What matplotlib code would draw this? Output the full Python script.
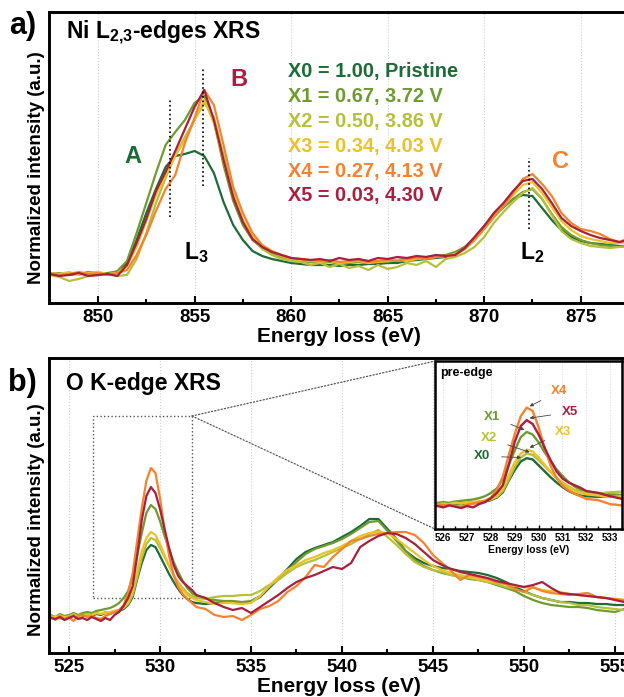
import matplotlib
matplotlib.use("Agg")
import matplotlib.pyplot as plt
import numpy as np
from matplotlib.patches import Rectangle, ConnectionPatch
from matplotlib.ticker import MultipleLocator

plt.rcParams['font.family'] = ['Liberation Sans', 'DejaVu Sans']
plt.rcParams['font.weight'] = 'bold'
plt.rcParams['mathtext.fontset'] = 'custom'
plt.rcParams['mathtext.rm'] = 'Liberation Sans:bold'
plt.rcParams['mathtext.bf'] = 'Liberation Sans:bold'
plt.rcParams['mathtext.default'] = 'rm'

# ── data ──────────────────────────────────────────────────────────────
names = ["X0", "X1", "X2", "X3", "X4", "X5"]
legend_text = ["X0 = 1.00, Pristine", "X1 = 0.67, 3.72 V", "X2 = 0.50, 3.86 V",
               "X3 = 0.34, 4.03 V", "X4 = 0.27, 4.13 V", "X5 = 0.03, 4.30 V"]
colors = ["#1d6b35", "#6e9b2f", "#b6c03a", "#ecc22c", "#f5822e", "#a8203e"]

# Ni L2,3 edges (847.5 .. 878 eV, 0.5 eV steps)
ni_energy = np.arange(847.5, 878.01, 0.5)
ni_x0 = [29, 28, 30, 29, 30, 28, 30, 31,
         40, 63, 90, 114, 136, 147, 149, 152, 147, 130, 101, 78, 63, 52, 47, 44, 42, 40,
         39, 38, 38, 38, 37, 38, 38, 39, 39, 40, 40, 42, 43, 44, 45, 46,
         50, 56, 65, 77, 88, 96, 104, 108, 107, 95, 83, 73, 66, 62, 60, 59, 58, 57, 57, 57]
ni_x1 = [29, 30, 28, 29, 31, 30, 29, 32,
         42, 70, 100, 130, 158, 171, 183, 200, 207, 182, 138, 102, 78, 63, 55, 50, 46, 43,
         42, 41, 40, 41, 39, 40, 41, 40, 42, 41, 43, 44, 44, 46, 47, 48,
         51, 56, 64, 75, 86, 96, 104, 111, 114, 104, 89, 76, 68, 63, 60, 58, 57, 56, 57, 58]
ni_x2 = [28, 26, 22, 24, 27, 28, 29, 27,
         28, 44, 70, 100, 125, 148, 166, 183, 200, 186, 148, 110, 83, 65, 54, 48, 44, 42,
         41, 38, 40, 36, 39, 35, 37, 33, 38, 34, 36, 40, 38, 42, 36, 44,
         46, 50, 56, 66, 80, 91, 101, 110, 115, 104, 88, 72, 64, 60, 57, 56, 55, 56, 57, 58]
ni_x3 = [30, 29, 31, 28, 30, 31, 29, 30,
         37, 56, 82, 108, 128, 147, 163, 183, 203, 180, 142, 108, 83, 67, 57, 51, 47, 44,
         43, 42, 41, 42, 40, 41, 42, 40, 41, 42, 43, 42, 44, 45, 46, 47,
         49, 54, 63, 74, 86, 97, 108, 118, 121, 110, 96, 82, 73, 67, 64, 62, 60, 60, 61, 61]
ni_x4 = [30, 28, 29, 31, 29, 30, 28, 30,
         33, 48, 68, 92, 114, 128, 160, 185, 213, 198, 158, 116, 90, 70, 58, 52, 48, 45,
         44, 43, 42, 43, 41, 42, 43, 41, 42, 43, 42, 44, 45, 44, 46, 47,
         48, 54, 63, 74, 86, 97, 110, 124, 129, 119, 107, 90, 80, 74, 72, 69, 64, 61, 65, 64]
ni_x5 = [29, 27, 28, 30, 27, 28, 29, 27,
         38, 60, 84, 112, 131, 152, 174, 196, 213, 183, 143, 106, 81, 64, 56, 51, 48, 45,
         44, 43, 44, 42, 45, 43, 44, 42, 45, 44, 46, 45, 47, 46, 48, 47,
         48, 55, 66, 77, 90, 100, 112, 122, 124, 114, 100, 85, 77, 72, 68, 65, 63, 61, 63, 63]

# O K edge (524 .. 532 eV in 0.25 steps, then 532.5 .. 556 eV in 0.5 steps)
o_energy = np.concatenate([np.arange(524.0, 532.01, 0.25), np.arange(532.5, 556.01, 0.5)])
o_x0 = [36, 34, 37, 35, 36, 38, 36, 37, 38, 37, 39, 38, 40, 39, 41, 42, 44, 48, 56, 74,
        90, 103, 108, 106, 97, 88, 79, 71, 64, 58, 54, 51, 50,
        49, 50, 51, 50, 50, 51, 56, 65, 74, 84, 94, 101, 105, 108, 111, 116, 121, 127,
        134, 134, 124, 114, 102, 95, 90, 87, 85, 84, 82, 81, 80, 78, 75, 71, 66, 62,
        58, 55, 53, 51, 51, 50, 50, 49, 49, 48, 48, 47]
o_x1 = [38, 36, 39, 37, 38, 40, 38, 40, 41, 40, 42, 43, 44, 45, 47, 50, 55, 62, 76, 98,
        120, 140, 148, 144, 132, 117, 104, 91, 81, 72, 65, 60, 57,
        55, 53, 52, 52, 51, 52, 57, 66, 74, 82, 91, 99, 104, 107, 110, 114, 119, 125,
        131, 132, 122, 112, 102, 93, 87, 83, 80, 78, 76, 74, 73, 71, 68, 65, 62, 57,
        53, 50, 48, 47, 46, 46, 45, 43, 42, 41, 44, 45]
o_x2 = [37, 35, 38, 36, 37, 39, 37, 38, 39, 38, 40, 39, 41, 40, 42, 43, 45, 49, 58, 76,
        95, 109, 115, 113, 105, 96, 87, 78, 71, 65, 60, 57, 55,
        54, 56, 57, 57, 58, 58, 62, 68, 73, 80, 86, 90, 93, 97, 101, 105, 109, 114,
        119, 123, 116, 108, 99, 91, 86, 83, 81, 78, 76, 75, 73, 71, 69, 66, 64, 61,
        58, 55, 53, 51, 50, 48, 48, 46, 45, 44, 43, 43]
o_x3 = [35, 37, 34, 36, 35, 37, 36, 38, 37, 38, 40, 39, 40, 41, 42, 43, 46, 51, 62, 82,
        102, 115, 121, 118, 109, 98, 87, 77, 69, 63, 58, 55, 53,
        51, 49, 50, 50, 49, 50, 57, 67, 76, 83, 88, 93, 96, 100, 103, 107, 112, 117,
        120, 121, 120, 114, 107, 100, 93, 87, 83, 80, 78, 76, 74, 72, 71, 69, 67, 66,
        65, 63, 62, 61, 59, 58, 57, 56, 55, 54, 53, 52]
o_x4 = [36, 33, 37, 34, 36, 32, 37, 38, 36, 37, 35, 34, 37, 39, 41, 43, 48, 60, 80, 113,
        145, 172, 185, 180, 155, 124, 97, 78, 66, 59, 54, 50, 46,
        44, 38, 36, 37, 33, 38, 44, 47, 52, 61, 67, 76, 88, 86, 96, 104, 112, 114,
        117, 119, 120, 121, 121, 118, 110, 98, 90, 82, 73, 78, 76, 74, 71, 69, 64, 61,
        66, 62, 60, 59, 58, 59, 60, 56, 55, 54, 53, 52]
o_x5 = [35, 34, 36, 33, 35, 37, 34, 35, 33, 36, 34, 32, 35, 33, 38, 41, 47, 55, 67, 98,
        133, 157, 166, 160, 144, 124, 105, 88, 77, 71, 67, 63, 58,
        55, 50, 46, 43, 45, 40, 46, 52, 58, 65, 71, 75, 78, 82, 86, 84, 90, 106,
        112, 117, 120, 119, 115, 109, 101, 93, 88, 84, 81, 79, 77, 75, 72, 70, 68, 66,
        68, 71, 65, 60, 59, 58, 57, 56, 55, 53, 51, 50]

ni_series = [ni_x0, ni_x1, ni_x2, ni_x3, ni_x4, ni_x5]
o_series = [o_x0, o_x1, o_x2, o_x3, o_x4, o_x5]


def style_axes(ax):
    for s in ax.spines.values():
        s.set_linewidth(2.1)
    ax.set_yticks([])
    ax.tick_params(axis="x", which="both", direction="in", labelsize=13.5, pad=4)
    ax.tick_params(axis="x", which="major", length=5, width=1.5)
    ax.tick_params(axis="x", which="minor", length=3, width=1.5)
    ax.xaxis.grid(True, which="major", color="#cfcfcf", linestyle=":", linewidth=0.8)
    ax.set_axisbelow(True)


fig = plt.figure(figsize=(6.24, 6.97), dpi=100)

# ── a) Ni L-edges ────────────────────────────────────────────────────
ax1 = fig.add_axes([0.0785, 0.5653, 0.9295, 0.4175])
for vals, c in zip(ni_series, colors):
    ax1.plot(ni_energy, vals, color=c, lw=1.6)
ax1.set_xlim(847.46, 877.5)
ax1.set_ylim(0, 291)
ax1.xaxis.set_major_locator(MultipleLocator(5))
ax1.xaxis.set_minor_locator(MultipleLocator(2.5))
style_axes(ax1)
ax1.set_xlabel("Energy loss (eV)", fontsize=15, fontweight="bold", labelpad=1)
ax1.set_ylabel("Normalized intensity (a.u.)", fontsize=13.5, fontweight="bold")
ax1.yaxis.set_label_coords(-0.007, 0.464)

ax1.text(0.030, 0.928, r"Ni L$_{2{,}3}$-edges XRS", transform=ax1.transAxes,
         fontsize=16.5, fontweight="bold", va="center", ha="left")
for i, (t, c) in enumerate(zip(legend_text, colors)):
    ax1.text(859.84, 231 - 24.8 * i, t, color=c, fontsize=14.3, fontweight="bold",
             va="center", ha="left")

ax1.plot([853.73, 853.73], [86, 203], color="black", ls=":", lw=1.2)
ax1.plot([855.44, 855.44], [117, 235], color="black", ls=":", lw=1.2)
ax1.plot([872.33, 872.33], [74, 145], color="black", ls=":", lw=1.2)
ax1.text(851.81, 146, "A", color=colors[0], fontsize=17, fontweight="bold", ha="center", va="center")
ax1.text(857.3, 223, "B", color=colors[5], fontsize=17, fontweight="bold", ha="center", va="center")
ax1.text(873.94, 141, "C", color=colors[4], fontsize=17, fontweight="bold", ha="center", va="center")
ax1.text(855.1, 50, r"L$_3$", fontsize=16.5, fontweight="bold", ha="center", va="center")
ax1.text(872.5, 50, r"L$_2$", fontsize=16.5, fontweight="bold", ha="center", va="center")

# ── b) O K-edge ──────────────────────────────────────────────────────
ax2 = fig.add_axes([0.0785, 0.0631, 0.9295, 0.4233])
for vals, c in zip(o_series, colors):
    ax2.plot(o_energy, vals, color=c, lw=1.6)
ax2.set_xlim(523.9, 555.77)
ax2.set_ylim(0, 295)
ax2.xaxis.set_major_locator(MultipleLocator(5))
ax2.xaxis.set_minor_locator(MultipleLocator(2.5))
style_axes(ax2)
ax2.set_xlabel("Energy loss (eV)", fontsize=15, fontweight="bold", labelpad=1)
ax2.set_ylabel("Normalized intensity (a.u.)", fontsize=13.5, fontweight="bold")
ax2.yaxis.set_label_coords(-0.007, 0.4525)
ax2.text(0.030, 0.915, "O K-edge XRS", transform=ax2.transAxes,
         fontsize=16.5, fontweight="bold", va="center", ha="left")

ax2.add_patch(Rectangle((526.32, 55), 531.76 - 526.32, 237 - 55, fill=False,
                        ec="#555555", ls=":", lw=1.0))

# inset
axin = fig.add_axes([0.6971, 0.2410, 0.2997, 0.2410])
for vals, c in zip(o_series, colors):
    axin.plot(o_energy, vals, color=c, lw=1.7)
axin.set_xlim(525.65, 533.5)
axin.set_ylim(0, 256)
axin.set_yticks([])
axin.xaxis.set_major_locator(MultipleLocator(1))
axin.xaxis.set_minor_locator(MultipleLocator(0.5))
for s in axin.spines.values():
    s.set_linewidth(1.8)
axin.tick_params(axis="x", which="both", direction="in", labelsize=7, pad=3)
axin.tick_params(axis="x", which="major", length=3, width=1)
axin.tick_params(axis="x", which="minor", length=2, width=1)
axin.xaxis.grid(True, which="major", color="#d5d5d5", linestyle=":", linewidth=0.7)
axin.set_axisbelow(True)
axin.set_xlabel("Energy loss (eV)", fontsize=7.5, fontweight="bold", labelpad=1)
axin.text(0.03, 0.93, "pre-edge", transform=axin.transAxes, fontsize=9,
          fontweight="bold", va="center", ha="left")

inset_labels = {
    "X4": ((530.87, 210), (529.62, 187)),
    "X5": ((531.31, 178), (529.62, 169)),
    "X1": ((528.05, 171), (529.41, 151)),
    "X3": ((531.04, 148), (529.62, 124)),
    "X2": ((527.91, 138), (529.62, 117)),
    "X0": ((527.64, 111), (529.27, 109)),
}
for name, c in zip(names, colors):
    (tx, ty), (px, py) = inset_labels[name]
    axin.annotate(name, xy=(px, py), xytext=(tx, ty), color=c, fontsize=9.5,
                  fontweight="bold", ha="center", va="center",
                  arrowprops=dict(arrowstyle="-|>", color="#444444", lw=0.6,
                                  mutation_scale=5, shrinkA=6, shrinkB=0))

for corner in [(0, 1), (0, 0)]:
    con = ConnectionPatch(xyA=(531.76, 237), coordsA=ax2.transData,
                          xyB=corner, coordsB=axin.transAxes,
                          color="#555555", ls=":", lw=0.9)
    fig.add_artist(con)

fig.text(0.036, 0.963, "a)", fontsize=22, fontweight="bold", ha="center", va="center")
fig.text(0.036, 0.450, "b)", fontsize=22, fontweight="bold", ha="center", va="center")

fig.savefig("out.png", dpi=100)
